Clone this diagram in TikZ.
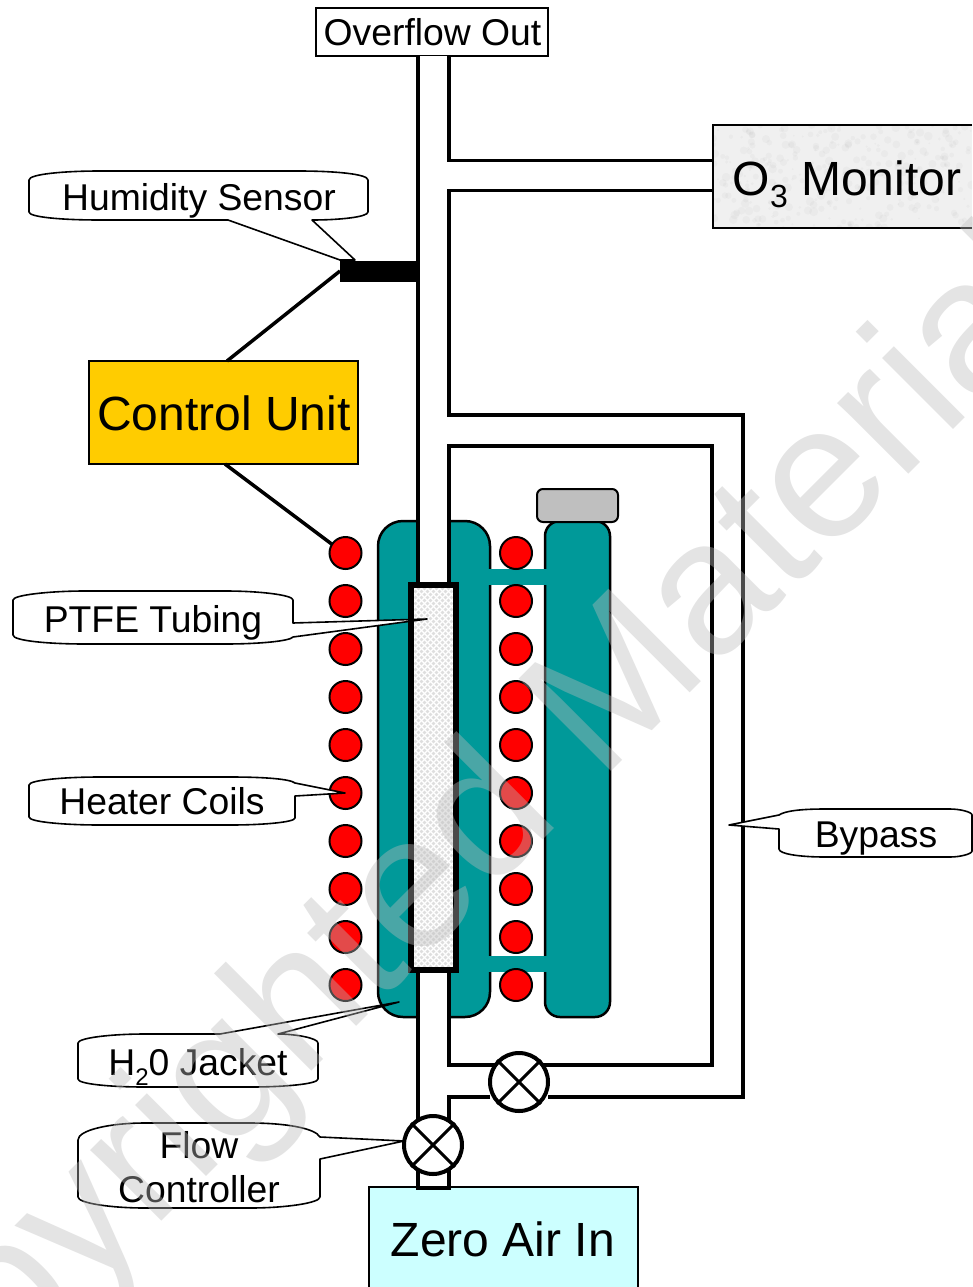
\documentclass[tikz,border=0pt]{standalone}
\usepackage{fontspec}
\setmainfont{Liberation Sans}
\definecolor{teal0}{HTML}{009999}
\definecolor{coilred}{HTML}{FF0000}
\definecolor{ctrl}{HTML}{FFCC00}
\definecolor{air}{HTML}{CCFFFF}
\definecolor{monitor}{HTML}{F0F0F0}
\definecolor{mark}{HTML}{BBBBBB}
\tikzset{
  wall/.style={draw=black,line width=3.8pt,line cap=butt,line join=miter},
  tank/.style={draw=black,fill=teal0,line width=2.5pt},
  coil/.style={circle,draw=black,fill=coilred,line width=2pt,minimum size=32pt,inner sep=0pt},
  valvebody/.style={circle,draw=black,fill=white,line width=4pt,minimum size=58pt,inner sep=0pt},
  valvecross/.style={draw=black,line width=3pt},
  callout/.style={draw=black,fill=white,line width=1.6pt,line join=round},
  lab/.style={anchor=base,inner sep=0pt,font=\fontsize{37.3}{37.3}\selectfont},
  biglab/.style={anchor=base,inner sep=0pt,font=\fontsize{48}{48}\selectfont},
  cable/.style={draw=black,line width=3.5pt},
}
\newcommand{\subdigit}[3]{\raisebox{-#2pt}{\fontsize{#1}{#1}\selectfont #3}}
\begin{document}
\begin{tikzpicture}[x=1pt,y=-1pt]
\useasboundingbox (0,0) rectangle (972,1287);
% boxes
\node[draw=black,line width=1.6pt,fill=white,minimum width=232pt,minimum height=48pt,inner sep=0pt] (overflowbox) at (432,32) {};
\node[lab] (overflow) at (432.5,46) {Overflow Out};
\fill[monitor] (713,125) rectangle (972,228);
\pgfmathsetseed{7}
\begin{scope}
\clip (713,125) rectangle (972,228);
\foreach \i in {1,...,320}{
  \pgfmathsetmacro{\px}{713+259*rnd}
  \pgfmathsetmacro{\py}{125+103*rnd}
  \pgfmathsetmacro{\pr}{1+3.5*rnd}
  \fill[black,opacity=0.025] (\px,\py) circle[radius=\pr pt];
}
\end{scope}
\draw[black,line width=2pt] (972,125) -- (713,125) -- (713,228) -- (972,228);
\node[biglab] (monitorlab) at (847,195) {O\subdigit{32}{12}{3} Monitor};
\node[draw=black,line width=1.6pt,fill=ctrl,minimum width=269pt,minimum height=103pt,inner sep=0pt] (control) at (223.5,412.5) {};
\node[biglab] (controllab) at (224,430) {Control Unit};
% water jacket
\draw[tank] (378,992) -- (378,546) arc[start angle=180,end angle=90,radius=25pt] -- (465,521) arc[start angle=90,end angle=0,radius=25pt] -- (490,992) arc[start angle=0,end angle=-90,radius=25pt] -- (403,1017) arc[start angle=270,end angle=180,radius=25pt] -- cycle;
\draw[tank] (545,1002) -- (545,536) arc[start angle=180,end angle=90,radius=15pt] -- (595,521) arc[start angle=90,end angle=0,radius=15pt] -- (610,1002) arc[start angle=0,end angle=-90,radius=15pt] -- (560,1017) arc[start angle=270,end angle=180,radius=15pt] -- cycle;
\fill[teal0] (488,569) rectangle (547,585);
\fill[teal0] (488,956) rectangle (547,972);
\draw[black,fill=black!25,line width=2pt,rounded corners=6pt] (537,489) rectangle (618,522);
% tube interior
\fill[white] (418,56) rectangle (449,585);
\fill[white] (418,972) rectangle (449,1188);
% walls
\draw[wall] (418,56) -- (418,585);
\draw[wall] (449,56) -- (449,160.5) -- (713,160.5);
\draw[wall] (713,190.5) -- (449,190.5) -- (449,415) -- (743,415) -- (743,1097) -- (548,1097);
\draw[wall] (449,585) -- (449,446) -- (712,446) -- (712,1065) -- (449,1065) -- (449,972);
\draw[wall] (418,972) -- (418,1130);
\draw[wall] (490,1097) -- (449,1097) -- (449,1125);
\draw[wall] (418,1165) -- (418,1188);
\draw[wall] (449,1165) -- (449,1188);
% cell
\fill[black!13] (411,585) rectangle (455.5,969.5);
\begin{scope}
\clip (411,585) rectangle (455.5,969.5);
\foreach \yy in {530,536,...,980}{
  \draw[white,line width=1.3pt] (411,\yy) -- (456,\yy+45);
  \draw[white,line width=1.3pt] (411,\yy+45) -- (456,\yy);
}
\end{scope}
\draw[black,line width=6pt] (411,585) rectangle (455.5,969.5);
% sensor
\fill[black] (340,261) rectangle (418,282);
\coordinate (sensorfoot) at (340,271);
% cables
\draw[cable] (sensorfoot) -- (227,361);
\coordinate (coiltop) at (333,545);
\draw[cable] (225,464) -- (coiltop);
% coils
\foreach \yy/\k in {553/1,601/2,649/3,697/4,745/5,793/6,841/7,889/8,937/9,985/10}{
  \node[coil] (l\k) at (345.5,\yy) {};
  \node[coil] (r\k) at (516,\yy) {};
}
% air box
\node[draw=black,line width=1.6pt,fill=air,minimum width=269pt,minimum height=102pt,inner sep=0pt] (airbox) at (503.5,1238) {};
\node[biglab] (airlab) at (503,1256) {Zero Air In};
\draw[black,line width=4pt] (416,1188) -- (451,1188);
% valves
\node[valvebody] (v1) at (519,1082) {};
\draw[valvecross] (v1.45) -- (v1.225);
\draw[valvecross] (v1.135) -- (v1.315);
\node[valvebody] (v2) at (433,1145) {};
\draw[valvecross] (v2.45) -- (v2.225);
\draw[valvecross] (v2.135) -- (v2.315);
% callouts
\draw[callout] (29,180) .. controls (29,174) and (65,171) .. (100,171) -- (298,171) .. controls (335,171) and (368,174) .. (368,180) -- (368,212) .. controls (368,217) and (340,220) .. (312,220) -- (355,260) -- (340,260) -- (228,220) -- (100,220) .. controls (60,220) and (29,217) .. (29,212) -- cycle;
\node[lab] (humid) at (199,210) {Humidity Sensor};
\draw[callout] (13,600) .. controls (13,595) and (50,591) .. (85,591) -- (225,591) .. controls (260,591) and (293,595) .. (293,600) -- (293,623) -- (427,619) -- (293,637) .. controls (290,641) and (260,644) .. (225,644) -- (85,644) .. controls (50,644) and (13,641) .. (13,635) -- cycle;
\node[lab] (ptfe) at (153,632) {PTFE Tubing};
\draw[callout] (29,785) .. controls (29,780) and (65,777) .. (100,777) -- (230,777) .. controls (265,777) and (290,779) .. (295,783) -- (345,793) -- (295,796) -- (295,818) .. controls (295,822) and (265,825) .. (230,825) -- (100,825) .. controls (65,825) and (29,822) .. (29,817) -- cycle;
\node[lab] (heater) at (162,814) {Heater Coils};
\draw[callout] (779,815) -- (729,825) -- (779,829) -- (779,849) .. controls (779,854) and (800,857) .. (825,857) -- (950,857) .. controls (960,857) and (972,854) .. (972,851) -- (972,815) .. controls (972,812) and (960,809) .. (950,809) -- (825,809) .. controls (800,809) and (785,811) .. (779,815) -- cycle;
\node[lab] (bypass) at (876,847) {Bypass};
\draw[callout] (78,1043) .. controls (78,1038) and (110,1034) .. (145,1034) -- (220,1034) -- (399,1002) -- (278,1034) .. controls (295,1034) and (318,1038) .. (318,1043) -- (318,1079) .. controls (318,1084) and (285,1087) .. (250,1087) -- (145,1087) .. controls (110,1087) and (78,1084) .. (78,1079) -- cycle;
\node[lab] (jacket) at (198,1075) {H\subdigit{24}{10}{2}0 Jacket};
\draw[callout] (78,1140) .. controls (78,1130) and (110,1123) .. (145,1123) -- (250,1123) .. controls (285,1123) and (315,1128) .. (320,1137) -- (404,1141) -- (320,1159) -- (320,1197) .. controls (320,1203) and (285,1208) .. (250,1208) -- (145,1208) .. controls (110,1208) and (78,1203) .. (78,1197) -- cycle;
\node[lab] (flow) at (199,1158) {Flow};
\node[lab] (controller) at (199,1202) {Controller};
% watermark
\node[anchor=base,inner sep=0pt,rotate=45,text=mark,opacity=0.4,font=\fontsize{190}{190}\selectfont] (wm) at (459,924) {Copyrighted Material};
\end{tikzpicture}
\end{document}
